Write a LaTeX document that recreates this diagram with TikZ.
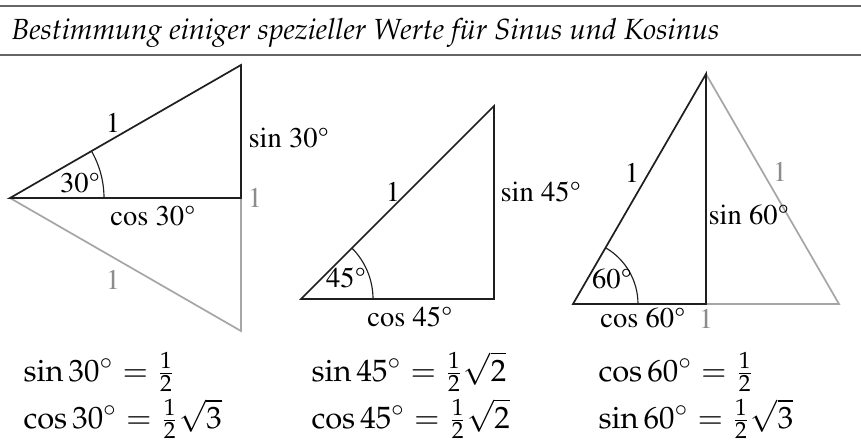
\documentclass[tikz,border=0pt]{standalone}
\usepackage[T1]{fontenc}
\usepackage{mathpazo}
\usepackage{tikz}
\newcommand{\tms}{\fontfamily{ptm}\selectfont}

\begin{document}
\begin{tikzpicture}[
  x=0.35pt,y=-0.35pt,
  every node/.style={inner sep=0pt,font=\tms},
  side/.style={line width=0.6pt,draw=black!88},
  mirror/.style={line width=0.6pt,draw=black!35},
  rule/.style={draw=black!60},
  faint/.style={text=black!45},
  formula/.style={anchor=base west,font=\fontsize{10.8}{13}\selectfont}
]
\useasboundingbox (0,0) rectangle (861,439);

% rules and heading
\coordinate (topl) at (0,6);
\coordinate (topr) at (861,6);
\coordinate (midl) at (0,55);
\coordinate (midr) at (861,55);
\draw[rule,line width=0.75pt] (topl) -- (topr);
\draw[rule,line width=0.55pt] (midl) -- (midr);
\node[anchor=base west,font=\fontsize{10.2}{12}\selectfont\itshape] (title) at (11,39)
  {Bestimmung einiger spezieller Werte f\"ur Sinus und Kosinus};

% 30 degrees
\coordinate (a1) at (10,198);
\coordinate (b1) at (241,198);
\coordinate (c1) at (241,65);
\coordinate (d1) at (241,331);
\draw[mirror] (a1) -- (d1) -- (b1);
\draw[side] (a1) -- (c1) -- (b1) -- cycle;
\draw[side,line width=0.4pt] (a1) ++(94,0) arc (0:-30:94);
\node (hyp1) at (113,123) {1};
\node[anchor=west] (sin1) at (248,138) {sin 30\textdegree};
\node (ang1) at (80,183) {30\textdegree};
\node[anchor=north] (cos1) at (153,206) {cos 30\textdegree};
\node[faint] (one1) at (255,198) {1};
\node[faint] (low1) at (113,280) {1};

% 45 degrees
\coordinate (a2) at (301,299);
\coordinate (b2) at (494,299);
\coordinate (c2) at (494,106);
\draw[side] (a2) -- (c2) -- (b2) -- cycle;
\draw[side,line width=0.4pt] (a2) ++(72,0) arc (0:-45:72);
\node (hyp2) at (393,192) {1};
\node[anchor=west] (sin2) at (500,192) {sin 45\textdegree};
\node (ang2) at (346,278) {45\textdegree};
\node[anchor=north] (cos2) at (410,307) {cos 45\textdegree};

% 60 degrees
\coordinate (a3) at (573,304);
\coordinate (b3) at (706,304);
\coordinate (c3) at (706,74);
\coordinate (d3) at (839,304);
\draw[mirror] (b3) -- (d3) -- (c3);
\draw[side] (a3) -- (c3) -- (b3) -- cycle;
\draw[side,line width=0.4pt] (a3) ++(65,0) arc (0:-60:65);
\node (hyp3) at (632,173) {1};
\node[faint] (right3) at (780,172) {1};
\node[anchor=west] (sin3) at (708,215) {sin 60\textdegree};
\node (ang3) at (612,279) {60\textdegree};
\node[anchor=north] (cos3) at (643,308) {cos 60\textdegree};
\node[faint,anchor=north] (one3) at (706,309) {1};

% values
\node[formula] (s30) at (23,381) {$\sin 30^\circ = \frac{1}{2}$};
\node[formula] (c30) at (23,428) {$\cos 30^\circ = \frac{1}{2}\sqrt{3}$};
\node[formula] (s45) at (311,381) {$\sin 45^\circ = \frac{1}{2}\sqrt{2}$};
\node[formula] (c45) at (311,428) {$\cos 45^\circ = \frac{1}{2}\sqrt{2}$};
\node[formula] (c60) at (598,381) {$\cos 60^\circ = \frac{1}{2}$};
\node[formula] (s60) at (598,428) {$\sin 60^\circ = \frac{1}{2}\sqrt{3}$};
\end{tikzpicture}
\end{document}
